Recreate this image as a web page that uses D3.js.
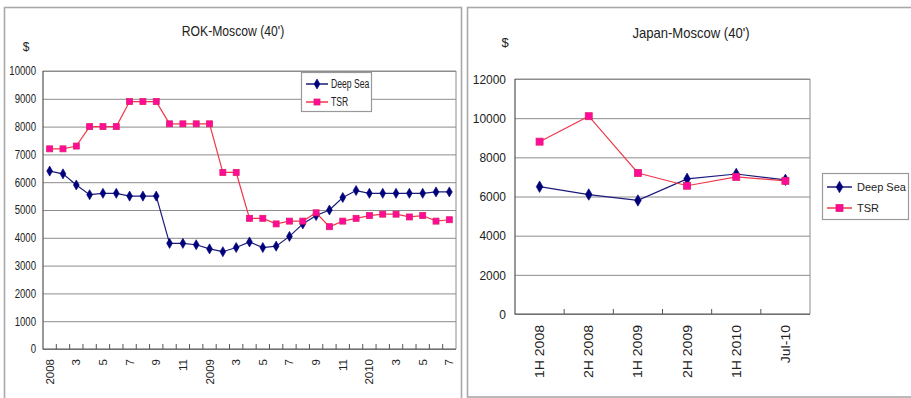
<!DOCTYPE html>
<html>
<head>
<meta charset="utf-8">
<script src="https://cdn.jsdelivr.net/npm/d3@7"></script>
<style>
  html, body { margin: 0; padding: 0; background: #fff; }
  svg { display: block; }
  text { font-family: "Liberation Sans", Arial, sans-serif; fill: #222; }
</style>
</head>
<body>
<svg id="chart" width="911" height="398"></svg>
<script>
// ROK-Moscow, monthly Jan 2008 – Jul 2010
const rokMonths = ["2008","","3","","5","","7","","9","","11","",
                   "2009","","3","","5","","7","","9","","11","",
                   "2010","","3","","5","","7"];
const rokDeepSea = [6400,6300,5900,5550,5600,5600,5500,5500,5500,3800,3800,3750,
                    3600,3500,3650,3850,3650,3700,4050,4500,4800,5000,5450,5700,
                    5600,5600,5600,5600,5600,5650,5650];
const rokTSR = [7200,7200,7300,8000,8000,8000,8900,8900,8900,8100,8100,8100,
                8100,6350,6350,4700,4700,4500,4600,4600,4900,4400,4600,4700,
                4800,4850,4850,4750,4800,4600,4650];
const rokTicks = [0,1000,2000,3000,4000,5000,6000,7000,8000,9000,10000];

// Japan-Moscow, half-yearly
const jpPeriods = ["1H 2008","2H 2008","1H 2009","2H 2009","1H 2010","Jul-10"];
const jpDeepSea = [6500,6100,5800,6900,7150,6850];
const jpTSR = [8800,10100,7200,6550,7000,6800];
const jpTicks = [0,2000,4000,6000,8000,10000,12000];

const seriesNames = ["Deep Sea","TSR"];

const DEEP_LINE = "#1b1b7a", DEEP_MARK = "#00007a";
const TSR_LINE = "#f0374a", TSR_MARK = "#ff0a9a", TSR_MARK_EDGE = "#e0206a";

const svg = d3.select("#chart");

// squeeze or stretch text along its baseline by a factor
function condense(sel, factor) {
  if (factor === 1) return;
  sel.each(function () {
    const w = this.getComputedTextLength();
    if (w > 0) {
      this.setAttribute("textLength", (w * factor).toFixed(2));
      this.setAttribute("lengthAdjust", "spacingAndGlyphs");
    }
  });
}

// panel frames
svg.append("rect").attr("x", 4.5).attr("y", 7.5).attr("width", 457).attr("height", 400)
  .attr("fill", "none").attr("stroke", "#a9a9a9").attr("stroke-width", 1.6);
svg.append("rect").attr("x", 467.5).attr("y", 7.5).attr("width", 460).attr("height", 389.5)
  .attr("fill", "none").attr("stroke", "#a9a9a9").attr("stroke-width", 1.6);

function drawMarker(g, type, cx, cy, size) {
  if (type === "diamond") {
    g.append("path")
      .attr("d", d3.symbol(d3.symbolDiamond, size * size * 0.6)())
      .attr("transform", `translate(${cx},${cy})`)
      .attr("fill", DEEP_MARK).attr("stroke", DEEP_MARK).attr("stroke-width", 0.6);
  } else {
    g.append("rect")
      .attr("x", cx - size / 2).attr("y", cy - size / 2)
      .attr("width", size).attr("height", size)
      .attr("fill", TSR_MARK).attr("stroke", TSR_MARK_EDGE).attr("stroke-width", 0.8);
  }
}

function drawChart(o) {
  const g = svg.append("g");
  const x = d3.scaleBand().domain(d3.range(o.labels.length)).range([o.left, o.right]);
  const y = d3.scaleLinear().domain([0, o.ticks[o.ticks.length - 1]]).range([o.bottom, o.top]);

  // gridlines
  g.append("g").attr("transform", `translate(${o.left},0)`)
    .call(d3.axisLeft(y).tickValues(o.ticks).tickSize(-(o.right - o.left)).tickFormat(""))
    .call(a => a.select(".domain").remove())
    .call(a => a.selectAll("line").attr("stroke", "#8c8c8c").attr("stroke-width", 1));

  // plot frame (top/right lighter)
  g.append("path")
    .attr("d", `M${o.left},${o.top}H${o.right}V${o.bottom}`)
    .attr("fill", "none").attr("stroke", "#8c8c8c").attr("stroke-width", 1);

  // y tick labels
  g.append("g").attr("transform", `translate(${o.left},0)`)
    .call(d3.axisLeft(y).tickValues(o.ticks).tickSize(0).tickPadding(o.yPad).tickFormat(d3.format("d")))
    .call(a => a.select(".domain").remove())
    .call(a => a.selectAll("text").attr("font-size", o.yFont).attr("fill", "#222")
      .style("font-family", null).call(condense, o.yScale));

  // axis lines
  g.append("path")
    .attr("d", `M${o.left},${o.top}V${o.bottom}H${o.right}`)
    .attr("fill", "none").attr("stroke", "#555").attr("stroke-width", 1.2);

  // category boundary ticks (pointing up into the plot)
  const bounds = d3.range(1, o.labels.length).map(i => o.left + i * x.step());
  g.append("g").selectAll("line").data(bounds).join("line")
    .attr("x1", d => d).attr("x2", d => d)
    .attr("y1", o.bottom).attr("y2", o.bottom - 5)
    .attr("stroke", "#555").attr("stroke-width", 1);

  // x labels, rotated
  g.append("g").attr("transform", `translate(0,${o.bottom})`)
    .call(d3.axisBottom(x).tickSize(0).tickFormat(i => o.labels[i]))
    .call(a => a.select(".domain").remove())
    .call(a => a.selectAll("text")
      .attr("font-size", o.xFont).attr("fill", "#222")
      .attr("text-anchor", "end")
      .attr("transform", `translate(0,${o.xPad}) rotate(-90)`)
      .attr("x", 0).attr("y", 0).attr("dy", "0.35em")
      .style("font-family", null).call(condense, o.xScale));

  // series
  const line = d3.line().x((d, i) => x(i) + x.bandwidth() / 2).y(d => y(d));
  g.append("path").datum(o.deep).attr("d", line)
    .attr("fill", "none").attr("stroke", DEEP_LINE).attr("stroke-width", 1.2);
  g.append("path").datum(o.tsr).attr("d", line)
    .attr("fill", "none").attr("stroke", TSR_LINE).attr("stroke-width", 1.2);

  o.deep.forEach((v, i) => drawMarker(g, "diamond", x(i) + x.bandwidth() / 2, y(v), o.mark + 1));
  o.tsr.forEach((v, i) => drawMarker(g, "square", x(i) + x.bandwidth() / 2, y(v), o.mark));

  // title and unit
  g.append("text").attr("x", o.titleX).attr("y", o.titleY)
    .attr("text-anchor", "middle").attr("font-size", o.titleFont).text(o.title)
    .call(condense, o.titleScale);
  g.append("text").attr("x", o.unitX).attr("y", o.unitY)
    .attr("text-anchor", "middle").attr("font-size", o.yFont).text("$");

  // legend
  const L = o.legend;
  g.append("rect").attr("x", L.x + 0.5).attr("y", L.y + 0.5).attr("width", L.w).attr("height", L.h)
    .attr("fill", "#fff").attr("stroke", "#999").attr("stroke-width", 1.2);
  seriesNames.forEach((name, k) => {
    const cy = L.y + L.row0 + k * L.rowGap;
    const lx0 = L.x + 5, lx1 = L.x + 5 + L.lineLen;
    g.append("line").attr("x1", lx0).attr("x2", lx1).attr("y1", cy).attr("y2", cy)
      .attr("stroke", k === 0 ? DEEP_LINE : TSR_LINE).attr("stroke-width", 1.5);
    drawMarker(g, k === 0 ? "diamond" : "square", (lx0 + lx1) / 2, cy, k === 0 ? o.mark + 1 : o.mark);
    g.append("text").attr("x", lx1 + L.gap).attr("y", cy).attr("dy", "0.36em")
      .attr("font-size", L.font).text(name).call(condense, L.scale);
  });
}

drawChart({
  labels: rokMonths, deep: rokDeepSea, tsr: rokTSR, ticks: rokTicks,
  left: 43, right: 456, top: 71, bottom: 349,
  yFont: 12, yPad: 7, yScale: 0.8, xFont: 11.5, xPad: 10, xScale: 1, mark: 6,
  title: "ROK-Moscow (40')", titleX: 233, titleY: 36, titleFont: 14.5, titleScale: 0.84,
  unitX: 26, unitY: 51,
  legend: { x: 301, y: 72, w: 70, h: 39, row0: 12, rowGap: 18, lineLen: 22, gap: 3, font: 12, scale: 0.72 }
});

drawChart({
  labels: jpPeriods, deep: jpDeepSea, tsr: jpTSR, ticks: jpTicks,
  left: 515, right: 810, top: 79, bottom: 314,
  yFont: 13, yPad: 9, yScale: 0.92, xFont: 13, xPad: 11, xScale: 1.08, mark: 7,
  title: "Japan-Moscow (40')", titleX: 691, titleY: 38, titleFont: 14.5, titleScale: 0.9,
  unitX: 505, unitY: 47,
  legend: { x: 822, y: 173, w: 86, h: 46, row0: 14, rowGap: 21, lineLen: 25, gap: 5, font: 11, scale: 1 }
});
</script>
</body>
</html>
